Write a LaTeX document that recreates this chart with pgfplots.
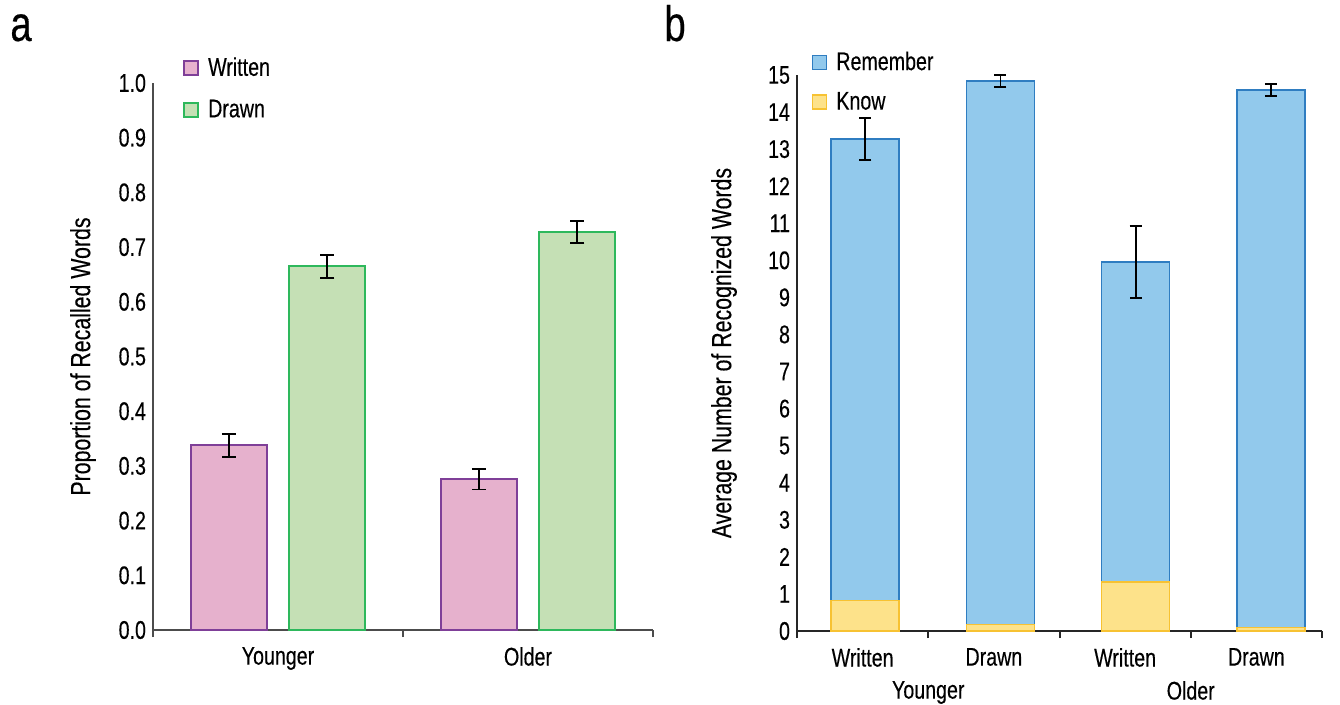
\documentclass[border=0pt]{standalone}
\usepackage{fontspec}
\setmainfont{Liberation Sans}[FakeStretch=0.77, FakeBold=0.3]
\usepackage{pgfplots}
\pgfplotsset{compat=1.18}
\definecolor{wfill}{HTML}{E6B1CD}
\definecolor{wdraw}{HTML}{7F3F98}
\definecolor{dfill}{HTML}{C5E0B5}
\definecolor{ddraw}{HTML}{2EB85C}
\definecolor{rfill}{HTML}{92C9EC}
\definecolor{rdraw}{HTML}{2F7DC1}
\definecolor{kfill}{HTML}{FDE28A}
\definecolor{kdraw}{HTML}{F7C232}
\newcommand{\tickfont}{\fontsize{12.8}{14}\selectfont}
\newcommand{\labfont}{\fontsize{13.9}{15}\selectfont}
\pgfplotsset{
  boxleg/.style={legend image code/.code={\draw[##1,line width=0.8bp] (0bp,-3.5bp) rectangle (7bp,3.5bp); \path[draw=none,fill=none] (7bp,0bp) -- (10bp,0bp);}},
  common/.style={
    scale only axis,
    axis x line*=bottom, axis y line*=left,
    axis line style={-, line width=1bp},
    ytick style={draw=none},
    major tick length=0pt,
    tick label style={font=\tickfont},
    /pgf/number format/assume math mode=true,
    label style={font=\labfont},
    legend style={draw=none, fill=none, font=\tickfont, inner sep=0pt, row sep=6.5bp,
      /tikz/every even column/.append style={column sep=0bp}},
    legend cell align=left,
    clip=false,
  },
}
\begin{document}
\begin{tikzpicture}
\path[use as bounding box] (0bp,0bp) rectangle (670bp,-352.5bp);
\node[anchor=base west, inner sep=0pt, font=\fontsize{25}{28}\selectfont] at (5bp,-20.5bp) {a};
\node[anchor=base west, inner sep=0pt, font=\fontsize{25}{28}\selectfont] at (332bp,-20.5bp) {b};

% Panel a
\begin{axis}[common,
  at={(76.5bp,-315bp)}, anchor=south west,
  width=250bp, height=273.5bp,
  axis line style={black!70},
  xmin=-0.5, xmax=1.5, ymin=0, ymax=1,
  ytick={0,0.1,...,1.0},
  yticklabel style={/pgf/number format/.cd, fixed, fixed zerofill, precision=1},
  xtick={0,1}, xticklabels={Younger,Older},
  xticklabel style={yshift=-5bp},
  extra x ticks={-0.5,0.5,1.5}, extra x tick labels={},
  extra x tick style={major tick length=3.5bp, tick align=outside, xtick style={draw=black!70, line width=1bp}},
  ylabel={Proportion of Recalled Words},
  ylabel style={at={(axis description cs:-0.14,0.5)}, anchor=center},
  ybar=11.25bp, bar width=38bp,
  legend style={at={(axis description cs:0.06,1.055)}, anchor=north west},
]
\addplot+[fill=wfill, draw=wdraw, line width=0.8bp, boxleg,
  error bars/.cd, y dir=both, y explicit,
  error bar style={black, line width=0.9bp},
  error mark options={black, line width=0.9bp, mark size=3.5bp, rotate=90}]
  coordinates {(0,0.338) +- (0,0.021) (1,0.276) +- (0,0.019)};
\addlegendentry{Written}
\addplot+[fill=dfill, draw=ddraw, line width=0.8bp, boxleg,
  error bars/.cd, y dir=both, y explicit,
  error bar style={black, line width=0.9bp},
  error mark options={black, line width=0.9bp, mark size=3.5bp, rotate=90}]
  coordinates {(0,0.665) +- (0,0.021) (1,0.728) +- (0,0.020)};
\addlegendentry{Drawn}
\end{axis}

% Panel b
\begin{axis}[common,
  at={(398.5bp,-315.5bp)}, anchor=south west,
  width=262.5bp, height=278bp,
  axis line style={black!85},
  xmin=-0.5, xmax=3.5, ymin=0, ymax=15,
  ytick={0,1,...,15},
  xtick={0,1,2,3}, xticklabels={Written,Drawn,Written,Drawn},
  xticklabel style={yshift=-5bp},
  extra x ticks={-0.5,0.5,1.5,2.5,3.5}, extra x tick labels={{},Younger,{},Older,{}},
  extra x tick style={major tick length=3.5bp, tick align=outside, xtick style={draw=black!85, line width=1bp},
    xticklabel style={yshift=-13bp}},
  ylabel={Average Number of Recognized Words},
  ylabel style={at={(axis description cs:-0.139,0.5)}, anchor=center},
  ybar stacked, bar width=34bp,
  reverse legend,
  legend style={at={(axis description cs:0.027,1.05)}, anchor=north west, row sep=5.5bp},
]
\addplot+[fill=kfill, draw=kdraw, line width=0.8bp, boxleg]
  coordinates {(0.02,0.82) (1.05,0.18) (2.08,1.32) (3.11,0.09)};
\addlegendentry{Know}
\addplot+[fill=rfill, draw=rdraw, line width=0.8bp, boxleg,
  error bars/.cd, y dir=both, y explicit,
  error bar style={black, line width=0.9bp},
  error mark options={black, line width=0.9bp, mark size=3bp, rotate=90}]
  coordinates {(0.02,12.45) +- (0,0.57) (1.05,14.66) +- (0,0.16) (2.08,8.63) +- (0,0.97) (3.11,14.50) +- (0,0.16)};
\addlegendentry{Remember}
\end{axis}
\end{tikzpicture}
\end{document}
